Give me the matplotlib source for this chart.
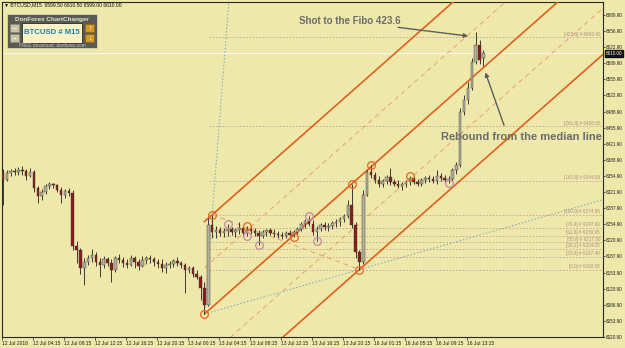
import numpy as np
import matplotlib.pyplot as plt
from matplotlib.patches import Rectangle
from matplotlib.transforms import blended_transform_factory

plt.rcParams['font.family'] = ['Liberation Sans', 'DejaVu Sans']

# BTCUSD candles (30 min steps)
opens = [6363, 6347, 6361, 6365, 6363, 6368, 6365, 6355, 6363, 6330,
         6313, 6322, 6334, 6338, 6336, 6326, 6316, 6324, 6320, 6209,
         6201, 6164, 6176, 6185, 6191, 6176, 6170, 6182, 6174, 6160,
         6185, 6180, 6174, 6170, 6185, 6176, 6168, 6180, 6185, 6182,
         6176, 6172, 6164, 6170, 6172, 6178, 6174, 6170, 6160, 6164,
         6151, 6145, 6122, 6087, 6253, 6239, 6243, 6237, 6241, 6245,
         6239, 6243, 6247, 6237, 6245, 6241, 6237, 6230, 6239, 6243,
         6237, 6234, 6232, 6230, 6237, 6232, 6239, 6245, 6255, 6261,
         6255, 6239, 6245, 6253, 6249, 6251, 6257, 6259, 6266, 6272,
         6295, 6253, 6197, 6176, 6316, 6363, 6357, 6347, 6338, 6345,
         6353, 6343, 6338, 6334, 6338, 6343, 6351, 6343, 6338, 6347,
         6351, 6349, 6345, 6355, 6351, 6347, 6349, 6368, 6378, 6488,
         6513, 6538, 6592, 6627, 6599.5]
highs = [6370, 6368, 6370, 6372, 6374, 6376, 6370, 6372, 6368, 6334,
         6328, 6338, 6343, 6341, 6338, 6332, 6328, 6330, 6326, 6220,
         6205, 6185, 6191, 6203, 6197, 6185, 6189, 6187, 6182, 6189,
         6193, 6187, 6182, 6191, 6189, 6182, 6189, 6189, 6191, 6187,
         6182, 6182, 6176, 6178, 6182, 6187, 6178, 6174, 6168, 6168,
         6160, 6149, 6135, 6268, 6274.5, 6251, 6249, 6247, 6255, 6249,
         6247, 6259, 6253, 6251, 6251, 6247, 6243, 6243, 6245, 6247,
         6245, 6241, 6239, 6241, 6243, 6243, 6249, 6259, 6266, 6272,
         6264, 6251, 6257, 6259, 6257, 6261, 6266, 6270, 6276, 6305,
         6338, 6259, 6201, 6326, 6368, 6378, 6363, 6355, 6349, 6357,
         6372, 6349, 6347, 6343, 6347, 6355, 6355, 6349, 6351, 6355,
         6357, 6355, 6368, 6361, 6357, 6355, 6372, 6384, 6496, 6524,
         6550, 6600, 6654, 6638, 6617]
lows = [6295, 6345, 6355, 6357, 6357, 6357, 6347, 6353, 6322, 6299,
        6305, 6318, 6328, 6330, 6322, 6299, 6309, 6313, 6201, 6174,
        6151, 6128, 6170, 6176, 6168, 6145, 6164, 6168, 6135, 6155,
        6174, 6166, 6164, 6168, 6164, 6160, 6166, 6172, 6174, 6168,
        6164, 6155, 6153, 6164, 6166, 6168, 6164, 6112, 6153, 6145,
        6141, 6097, 6068, 6085, 6226, 6226, 6230, 6228, 6230, 6232,
        6228, 6234, 6230, 6230, 6234, 6230, 6212, 6226, 6230, 6232,
        6228, 6226, 6224, 6226, 6226, 6228, 6234, 6241, 6247, 6251,
        6232, 6220, 6241, 6243, 6241, 6245, 6249, 6251, 6259, 6268,
        6247, 6185, 6160.5, 6172, 6313, 6351, 6341, 6332, 6332, 6338,
        6336, 6334, 6330, 6326, 6332, 6336, 6338, 6334, 6334, 6341,
        6343, 6341, 6338, 6345, 6341, 6341, 6345, 6359, 6374, 6482,
        6505, 6534, 6588, 6588, 6584]
closes = [6347, 6361, 6365, 6363, 6368, 6365, 6355, 6363, 6330, 6313,
          6322, 6334, 6338, 6336, 6326, 6316, 6324, 6320, 6209, 6201,
          6164, 6176, 6185, 6191, 6176, 6170, 6182, 6174, 6160, 6185,
          6180, 6174, 6170, 6185, 6176, 6168, 6180, 6185, 6182, 6176,
          6172, 6164, 6170, 6172, 6178, 6174, 6170, 6160, 6164, 6151,
          6145, 6122, 6087, 6253, 6239, 6243, 6237, 6241, 6245, 6239,
          6243, 6247, 6237, 6245, 6241, 6237, 6230, 6239, 6243, 6237,
          6234, 6232, 6230, 6237, 6232, 6239, 6245, 6255, 6261, 6255,
          6239, 6245, 6253, 6249, 6251, 6257, 6259, 6266, 6272, 6295,
          6253, 6197, 6176, 6316, 6363, 6357, 6347, 6338, 6345, 6353,
          6343, 6338, 6334, 6338, 6343, 6351, 6343, 6338, 6347, 6351,
          6349, 6345, 6355, 6351, 6347, 6349, 6368, 6378, 6488, 6513,
          6538, 6592, 6627, 6596, 6610]

# pitchfork anchors (candle numbers)
p1_idx, p2_idx, p3_idx = 52, 54, 92
# swing circles: (candle, 'h' high / 'l' low)
orange_marks = [(52, 'l'), (54, 'h'), (63, 'h'), (75, 'l'), (90, 'h'), (92, 'l'), (95, 'h'), (105, 'h')]
pink_marks = [(58, 'h'), (63, 'l'), (66, 'l'), (79, 'h'), (81, 'l'), (115, 'l')]

fib_ratios = [0.0, 23.6, 38.2, 50.0, 61.8, 76.4, 100.0, 161.8, 261.8, 423.6]

price_ticks = [6689.90, 6656.90, 6622.90, 6589.90, 6555.90, 6522.90, 6488.90, 6455.90,
               6421.90, 6388.90, 6354.90, 6321.90, 6287.90, 6254.90, 6220.90, 6187.90,
               6153.90, 6120.90, 6086.90, 6053.90, 6020.90]
time_labels = ['12 Jul 2018', '12 Jul 04:15', '12 Jul 08:15', '12 Jul 12:15', '12 Jul 16:15',
               '12 Jul 20:15', '13 Jul 00:15', '13 Jul 04:15', '13 Jul 08:15', '13 Jul 12:15',
               '13 Jul 16:15', '13 Jul 20:15', '16 Jul 01:15', '16 Jul 05:15', '16 Jul 09:15',
               '16 Jul 13:15']

o = np.array(opens, float)
h = np.array(highs, float)
l = np.array(lows, float)
c = np.array(closes, float)
xs = 2 * np.arange(len(c)) + 0.5   # in M15 bar units

W, H = 625, 348
bg = '#eee8aa'
fig = plt.figure(figsize=(W / 100, H / 100), dpi=100)
fig.patch.set_facecolor(bg)
ax = fig.add_axes([2 / W, 11 / H, 601 / W, 335 / H])
ax.set_facecolor(bg)
XMAX = 310.2
ax.set_xlim(0, XMAX)
ax.set_ylim(6020.1, 6717)

# fibo levels
fib0, fib100 = l[p3_idx], h[p2_idx]
for r in fib_ratios:
    p = fib0 + r / 100 * (fib100 - fib0)
    ax.plot([xs[p2_idx] - 1.5, XMAX], [p, p], color='#c9a09a', lw=0.6, ls=(0, (2, 2)), zorder=1)
    ax.text(XMAX - 1.6, p + 1, f'[{r:.1f}] # {p:.2f}', fontsize=3.3, color='#b08c86',
            ha='right', va='bottom', zorder=2)

# bid line
ax.axhline(c[-1], color='#fbf9ef', lw=0.8, zorder=1)

# pitchfork
p1 = np.array([xs[p1_idx], l[p1_idx]])
p2 = np.array([xs[p2_idx], h[p2_idx]])
p3 = np.array([xs[p3_idx], l[p3_idx]])
mid = (p2 + p3) / 2
slope = (mid[1] - p1[1]) / (mid[0] - p1[0])
xl = np.array([p1[0], XMAX])
med = p1[1] + slope * (xl - p1[0])
up = p2[1] + slope * (xl - p2[0])
lo = p3[1] + slope * (xl - p3[0])
for yy in (med, up, lo):
    ax.plot(xl, yy, color='#e0601c', lw=1.2, zorder=3)
for yy in ((med + up) / 2, (med + lo) / 2):
    ax.plot(xl, yy, color='#eaa070', lw=0.7, ls=(0, (5, 4)), zorder=3)
ax.plot([p2[0], p3[0]], [p2[1], p3[1]], color='#eaa070', lw=0.7, ls=(0, (5, 4)), zorder=3)

# blue dotted rays from P1
s13 = (p3[1] - p1[1]) / (p3[0] - p1[0])
ax.plot([p1[0], XMAX], [p1[1], p1[1] + s13 * (XMAX - p1[0])], color='#7aa6c4', lw=0.7,
        ls=(0, (1.5, 2)), zorder=3)
s12 = (p2[1] - p1[1]) / (p2[0] - p1[0])
ax.plot([p1[0], p1[0] + (6717 - p1[1]) / s12], [p1[1], 6717], color='#7aa6c4', lw=0.7,
        ls=(0, (1.5, 2)), zorder=3)

# candles
ax.vlines(xs, l, h, color='#3a3a3a', lw=0.7, zorder=4)
body_col = np.where(c >= o, '#b4b09a', '#8c1c1c')
ax.bar(xs, np.maximum(np.abs(c - o), 1.5), bottom=np.minimum(o, c), width=1.3,
       color=body_col, edgecolor='#3a3a3a', lw=0.3, zorder=5)

# swing circles
for marks, col in ((orange_marks, '#e8641e'), (pink_marks, '#c48aa4')):
    mx = [xs[i] for i, k in marks]
    my = [h[i] if k == 'h' else l[i] for i, k in marks]
    ax.plot(mx, my, 'o', ms=5.5, mfc='none', mec=col, mew=0.9, zorder=6)

# notes
txt_col = '#6c6c6c'
ax.text(153.5, 6677, 'Shot to the Fibo 423.6', fontsize=7, fontweight='bold', color=txt_col,
        ha='left', va='center', zorder=7)
ax.annotate('', xy=(xs[121] - 0.5, fib0 + 4.236 * (fib100 - fib0) + 2), xytext=(203, 6665),
            arrowprops=dict(arrowstyle='-|>', color='#5e5e5e', lw=1.0, mutation_scale=6), zorder=7)
ax.text(226.6, 6436, 'Rebound from the median line', fontsize=8, fontweight='bold', color=txt_col,
        ha='left', va='center', zorder=7, clip_on=False)
ax.annotate('', xy=(xs[124] + 0.5, 6576), xytext=(259.6, 6455),
            arrowprops=dict(arrowstyle='-|>', color='#5e5e5e', lw=1.0, mutation_scale=6), zorder=7)

# axes
ax.yaxis.tick_right()
ax.set_yticks(price_ticks)
ax.set_yticklabels([f'{v:.2f}' for v in price_ticks])
ax.set_xticks(np.arange(len(time_labels)) * 16)
ax.set_xticklabels(time_labels, ha='left')
ax.tick_params(axis='y', length=1.5, width=0.5, labelsize=3.3, pad=0.8, colors='#202020')
ax.tick_params(axis='x', length=2, width=0.5, labelsize=3.6, pad=1, colors='#202020')
for sp in ax.spines.values():
    sp.set_color('#2a2a2a')
    sp.set_linewidth(0.8)

trans = blended_transform_factory(ax.transAxes, ax.transData)
ax.text(1.004, c[-1], f'{c[-1]:.2f}', transform=trans, fontsize=3.3, color='white', va='center',
        ha='left', bbox=dict(boxstyle='square,pad=0.15', fc='#101010', ec='#101010'), zorder=8)

# title
fig.text(4 / W, 1 - 5 / H, '▼ BTCUSD,M15  6599.50 6610.50 6599.00 6610.00', fontsize=3.6,
         color='#101010', va='center', ha='left')

# ChartChanger panel
def fbox(x0, y0, x1, y1, **kw):
    fig.add_artist(Rectangle((x0 / W, 1 - y1 / H), (x1 - x0) / W, (y1 - y0) / H,
                             transform=fig.transFigure, **kw))

def ftext(x, y, s, **kw):
    fig.text(x / W, 1 - y / H, s, ha='center', va='center', **kw)

fbox(7, 14, 97, 48, fc='#5a5a55', ec='#d8d4b8', lw=0.6)
ftext(52, 19, 'DonForex ChartChanger', fontsize=4.6, fontweight='bold', color='#e8e4cc')
fbox(10, 24, 19, 32, fc='#c8c4a4', ec='#8a8670', lw=0.4)
fbox(10, 34, 19, 42, fc='#c8c4a4', ec='#8a8670', lw=0.4)
ftext(14.5, 28, '←', fontsize=5, color='#ffffff', fontweight='bold')
ftext(14.5, 38, '→', fontsize=5, color='#ffffff', fontweight='bold')
fbox(22, 23, 82, 43, fc='#faf2c4', ec='#2a2a2a', lw=0.6)
ftext(52, 33, 'BTCUSD # M15', fontsize=5.6, fontweight='bold', color='#1f7fa8')
fbox(85, 24, 94, 32, fc='#d49a28', ec='#8a6010', lw=0.4)
fbox(85, 34, 94, 42, fc='#d49a28', ec='#8a6010', lw=0.4)
ftext(89.5, 28, '↑', fontsize=5, color='#ffffff', fontweight='bold')
ftext(89.5, 38, '↓', fontsize=5, color='#ffffff', fontweight='bold')
ftext(52, 45.5, 'FREE download: donforex.com', fontsize=3.4, color='#c8c8c0')

fig.savefig('out.png', dpi=100, facecolor=bg)
